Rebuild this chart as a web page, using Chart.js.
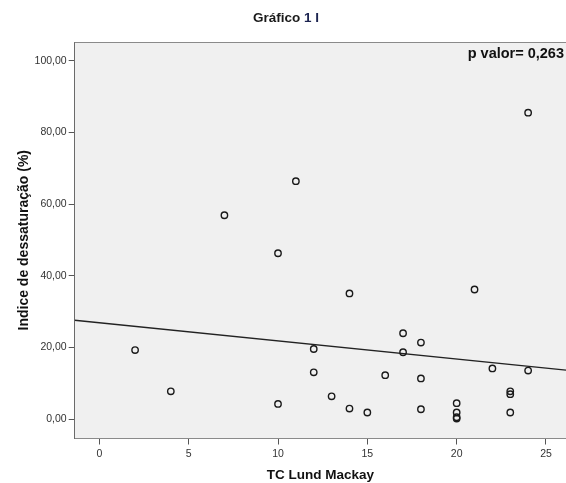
<!DOCTYPE html>
<html>
<head>
<meta charset="utf-8">
<script src="https://cdn.jsdelivr.net/npm/chart.js@4.4.1/dist/chart.umd.min.js"></script>
<style>
  body { margin: 0; background: #fff; }
  #wrap { width: 566px; height: 483px; }
</style>
</head>
<body>
<div id="wrap"><canvas id="grafico" width="566" height="483"></canvas></div>
<script>
// TC Lund Mackay score vs Indice de dessaturação (%)
const lundMackay = [2, 4, 7, 10, 10, 11, 12, 12, 13, 14, 14, 15, 16, 17, 17, 18, 18, 18, 20, 20, 20, 20, 21, 22, 23, 23, 23, 24, 24];
const dessaturacao = [19.3, 7.8, 56.9, 46.3, 4.3, 66.4, 19.6, 13.1, 6.4, 35.1, 3.0, 1.9, 12.3, 24.0, 18.7, 21.4, 11.4, 2.8, 4.5, 1.9, 0.6, 0.2, 36.2, 14.2, 7.8, 7.0, 1.9, 85.5, 13.6];
const xTicks = [0, 5, 10, 15, 20, 25];
const yTicks = [0, 20, 40, 60, 80, 100];
const xRange = [-1.38, 26.12];
const yRange = [-5.35, 105.2];
const pValor = 'p valor= 0,263';

const pontos = lundMackay.map((x, i) => ({ x: x, y: dessaturacao[i] }));

// linha de regressao (minimos quadrados)
const n = lundMackay.length;
const mx = lundMackay.reduce((a, b) => a + b, 0) / n;
const my = dessaturacao.reduce((a, b) => a + b, 0) / n;
let sxy = 0, sxx = 0;
for (let i = 0; i < n; i++) {
    sxy += (lundMackay[i] - mx) * (dessaturacao[i] - my);
    sxx += (lundMackay[i] - mx) * (lundMackay[i] - mx);
}
const slope = sxy / sxx;
const intercept = my - slope * mx;
const reta = xRange.map(x => ({ x: x, y: intercept + slope * x }));

const fundo = {
    id: 'fundo',
    beforeDraw(chart) {
        const { ctx, chartArea: a } = chart;
        ctx.save();
        ctx.fillStyle = '#f0f0f0';
        ctx.fillRect(a.left, a.top, a.right - a.left, a.bottom - a.top);
        ctx.restore();
    },
    afterDraw(chart) {
        const { ctx, chartArea: a } = chart;
        ctx.save();
        ctx.strokeStyle = '#8a8a8a';
        ctx.lineWidth = 1;
        ctx.beginPath();
        ctx.moveTo(a.left, a.top + 0.5);
        ctx.lineTo(a.right, a.top + 0.5);
        ctx.stroke();
        // titulo
        ctx.textBaseline = 'middle';
        ctx.font = 'bold 13.5px "Liberation Sans", Arial, sans-serif';
        const t1 = 'Gráfico ';
        const t2 = '1 I';
        const w1 = ctx.measureText(t1).width;
        const w2 = ctx.measureText(t2).width;
        const x0 = 286 - (w1 + w2) / 2;
        ctx.fillStyle = '#1a1a1a';
        ctx.textAlign = 'left';
        ctx.fillText(t1, x0, 18);
        ctx.fillStyle = '#1c2450';
        ctx.fillText(t2, x0 + w1, 18);
        // p valor
        ctx.font = 'bold 14.5px "Liberation Sans", Arial, sans-serif';
        ctx.fillStyle = '#111';
        ctx.textAlign = 'right';
        ctx.fillText(pValor, 564, 54);
        ctx.restore();
    }
};

const ctx = document.getElementById('grafico').getContext('2d');
const myChart = new Chart(ctx, {
    type: 'scatter',
    data: {
        datasets: [{
            label: 'Indice de dessaturação (%)',
            data: pontos,
            pointRadius: 3.2,
            pointBorderWidth: 1.4,
            pointBorderColor: '#1a1a1a',
            pointBackgroundColor: 'rgba(0,0,0,0)',
            showLine: false
        }, {
            type: 'line',
            label: 'Reta',
            data: reta,
            borderColor: '#222',
            borderWidth: 1.3,
            pointRadius: 0,
            fill: false
        }]
    },
    options: {
        responsive: false,
        animation: false,
        layout: { autoPadding: false, padding: { top: 42, left: 0, right: 0, bottom: 0 } },
        plugins: {
            legend: { display: false },
            tooltip: { enabled: false }
        },
        scales: {
            x: {
                type: 'linear',
                min: xRange[0],
                max: xRange[1],
                afterBuildTicks: s => { s.ticks = xTicks.map(v => ({ value: v })); },
                afterFit: s => { s.height = 44.5; s.paddingLeft = 0; s.paddingRight = 0; },
                grid: { drawOnChartArea: false, drawTicks: true, tickLength: 6, color: '#555' },
                border: { display: true, color: '#8a8a8a' },
                ticks: {
                    padding: 3,
                    color: '#333',
                    font: { family: '"Liberation Sans", Arial, sans-serif', size: 10.5 }
                },
                title: {
                    display: true,
                    text: 'TC Lund Mackay',
                    color: '#111',
                    padding: 0,
                    font: { family: '"Liberation Sans", Arial, sans-serif', size: 13.5, weight: 'bold' }
                }
            },
            y: {
                type: 'linear',
                min: yRange[0],
                max: yRange[1],
                afterBuildTicks: s => { s.ticks = yTicks.map(v => ({ value: v })); },
                afterFit: s => { s.width = 74.7; s.paddingTop = 0; s.paddingBottom = 0; },
                grid: { drawOnChartArea: false, drawTicks: true, tickLength: 6, color: '#555' },
                border: { display: true, color: '#6a6a6a' },
                ticks: {
                    padding: 2,
                    color: '#333',
                    font: { family: '"Liberation Sans", Arial, sans-serif', size: 10.5 },
                    callback: v => v.toFixed(2).replace('.', ',')
                },
                title: {
                    display: true,
                    text: 'Indice de dessaturação (%)',
                    color: '#111',
                    padding: { top: 16, bottom: 0 },
                    font: { family: '"Liberation Sans", Arial, sans-serif', size: 14, weight: 'bold' }
                }
            }
        }
    },
    plugins: [fundo]
});
</script>
</body>
</html>
